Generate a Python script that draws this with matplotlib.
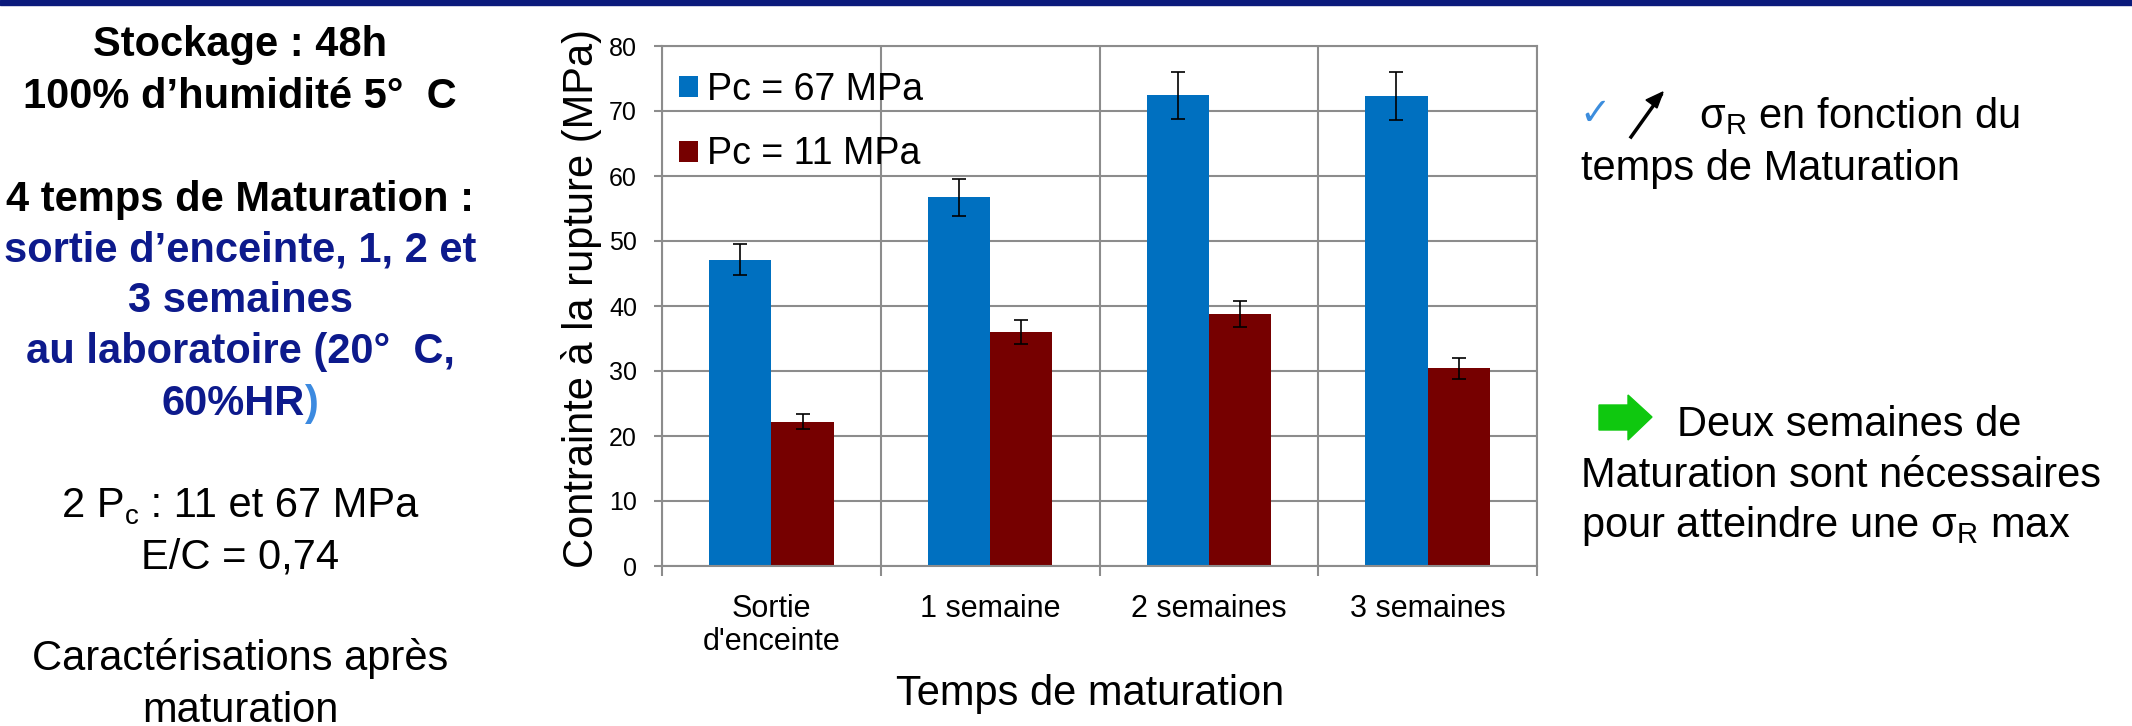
import numpy as np
import matplotlib.pyplot as plt
from matplotlib.patches import Rectangle, Polygon

plt.rcParams['font.family'] = ['Liberation Sans', 'DejaVu Sans']
plt.rcParams['mathtext.default'] = 'regular'

# data
categories = ["Sortie\nd'enceinte", "1 semaine", "2 semaines", "3 semaines"]
pc67 = [47.1, 56.7, 72.4, 72.3]
pc67_err = [2.4, 2.85, 3.65, 3.65]
pc11 = [22.2, 36.0, 38.8, 30.4]
pc11_err = [1.15, 1.8, 2.0, 1.6]
series_labels = ['Pc = 67 MPa', 'Pc = 11 MPa']

W, H = 2132, 726
fx = lambda x: x / W
fy = lambda y: 1 - y / H

fig = plt.figure(figsize=(21.32, 7.26), dpi=100)
fig.patches.append(Rectangle((0, fy(5)), 1, 5 / H, transform=fig.transFigure,
                             color='#0b1a7c', zorder=0))
renderer = fig.canvas.get_renderer()

ax = fig.add_axes([fx(662), fy(566), (1537 - 662) / W, (566 - 46) / H])
grid_c = '#8c8c8c'
x = np.arange(len(categories))
bw = 0.285
ax.bar(x - bw / 2, pc67, bw, color='#0070c0', label=series_labels[0], zorder=2)
ax.bar(x + bw / 2, pc11, bw, color='#760000', label=series_labels[1], zorder=2)
ax.errorbar(x - bw / 2, pc67, yerr=pc67_err, fmt='none', ecolor='black',
            elinewidth=1.2, capsize=4.8, capthick=1.2, zorder=3)
ax.errorbar(x + bw / 2, pc11, yerr=pc11_err, fmt='none', ecolor='black',
            elinewidth=1.2, capsize=4.8, capthick=1.2, zorder=3)

ax.set_xlim(-0.5, len(categories) - 0.5)
ax.set_ylim(0, 80)
ax.set_yticks(np.arange(0, 81, 10))
ax.set_xticks(np.arange(-0.5, len(categories), 1))
ax.set_xticklabels([])
ax.set_xticks(x, minor=True)
ax.set_xticklabels(categories, minor=True, fontsize=22, linespacing=1.15)
ax.tick_params(axis='x', which='major', length=7, width=1.5, color=grid_c)
ax.tick_params(axis='x', which='minor', length=0, pad=20)
ax.tick_params(axis='y', length=6, width=1.5, color=grid_c, labelsize=18, pad=12)
ax.grid(True, which='major', color=grid_c, lw=1.5, zorder=0)
ax.set_axisbelow(True)
for s in ax.spines.values():
    s.set_color(grid_c)
    s.set_linewidth(1.5)

ax.legend(loc='upper left', bbox_to_anchor=(0.0194, 0.95), frameon=False,
          fontsize=27, handlelength=0.5, handleheight=0.5, handletextpad=0.25,
          labelspacing=0.76, borderpad=0, borderaxespad=0)

fig.text(fx(582), fy(298), 'Contrainte à la rupture (MPa)', rotation=90,
         ha='center', va='center', fontsize=30)
fig.text(fx(1090), fy(705), 'Temps de maturation', ha='center', va='baseline',
         fontsize=30)


def centered_runs(xc, yb, runs):
    # runs: (text, color, weight, size, dy) placed side by side, centred on xc
    items = []
    for txt, c, w, size, dy in runs:
        t = fig.text(0, fy(yb + dy), txt, ha='left', va='baseline', fontsize=size,
                     color=c, fontweight=w)
        items.append(t)
    widths = [t.get_window_extent(renderer).width for t in items]
    x0 = xc - sum(widths) / 2
    for t, wd in zip(items, widths):
        t.set_x(fx(x0))
        x0 += wd


# left text block
navy = '#0d1a8c'
left_lines = [
    (56, 'Stockage : 48h', 'black', 'bold'),
    (108, '100% d\u2019humidité 5°  C', 'black', 'bold'),
    (211, '4 temps de Maturation :', 'black', 'bold'),
    (262, 'sortie d\u2019enceinte, 1, 2 et', navy, 'bold'),
    (312, '3 semaines', navy, 'bold'),
    (363, 'au laboratoire (20°  C,', navy, 'bold'),
    (568, 'E/C = 0,74', 'black', 'normal'),
    (670, 'Caractérisations après', 'black', 'normal'),
    (722, 'maturation', 'black', 'normal'),
]
for yb, txt, c, w in left_lines:
    fig.text(fx(240), fy(yb), txt, ha='center', va='baseline', fontsize=30,
             color=c, fontweight=w)

centered_runs(240, 415, [('60%HR', navy, 'bold', 30, 0),
                         (')', '#3c8ae0', 'bold', 30, 0)])
centered_runs(240, 517, [('2 P', 'black', 'normal', 30, 0),
                         ('c', 'black', 'normal', 20, 7),
                         (' : 11 et 67 MPa', 'black', 'normal', 30, 0)])

# right text block
fig.text(fx(1579), fy(125), '\u2713', fontsize=27, color='#3c8ddd',
         family='DejaVu Sans', va='baseline')
fig.add_artist(plt.Line2D([fx(1631), fx(1661)], [fy(137), fy(95)], color='black',
                          lw=2.5, transform=fig.transFigure))
fig.patches.append(Polygon([(fx(1663), fy(92)), (fx(1646), fy(100)), (fx(1657), fy(108))],
                           closed=True, transform=fig.transFigure, color='black'))
fig.text(fx(1699), fy(128), 'σ$_{R}$ en fonction du', fontsize=30, va='baseline')
fig.text(fx(1581), fy(180), 'temps de Maturation', fontsize=30, va='baseline')

green = [(1599, 405), (1628, 405), (1628, 395), (1652, 417), (1628, 440),
         (1628, 430), (1599, 430)]
fig.patches.append(Polygon([(fx(a), fy(b)) for a, b in green], closed=True,
                           transform=fig.transFigure, color='#0fc80f'))
fig.text(fx(1677), fy(436), 'Deux semaines de', fontsize=30, va='baseline')
fig.text(fx(1581), fy(487), 'Maturation sont nécessaires', fontsize=30, va='baseline')
fig.text(fx(1581), fy(537), 'pour atteindre une σ$_{R}$ max', fontsize=30, va='baseline')

fig.savefig('out.png', dpi=100)
